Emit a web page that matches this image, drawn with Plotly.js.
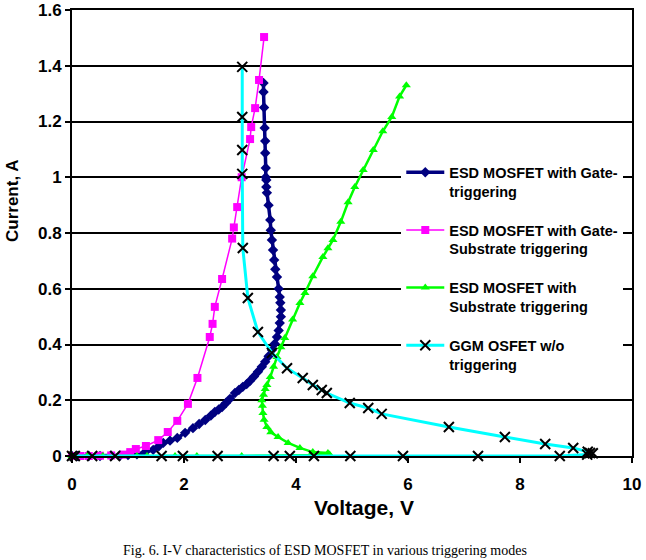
<!DOCTYPE html>
<html>
<head>
<meta charset="utf-8">
<script src="https://cdn.plot.ly/plotly-3.0.1.min.js"></script>
<style>
  html, body { margin: 0; padding: 0; background: #fff; }
  #chart { width: 646px; height: 560px; }
</style>
</head>
<body>
<div id="chart"></div>
<script>
// ---- Data ----
const seriesNames = [
  "ESD MOSFET with Gate-<br>triggering",
  "ESD MOSFET with Gate-<br>Substrate triggering",
  "ESD MOSFET with<br>Substrate triggering",
  "GGM OSFET w/o<br>triggering"
];

// Gate-triggering (navy, diamonds)
const gateV = [0, 0.1, 0.3, 0.5, 0.7, 0.86, 1.0, 1.16, 1.3, 1.45, 1.55, 1.63, 1.75, 1.88, 2.02, 2.16, 2.27, 2.38, 2.48, 2.55, 2.62, 2.68, 2.75, 2.82, 2.91, 2.98, 3.05, 3.12, 3.18, 3.25, 3.32, 3.39, 3.45, 3.51, 3.57, 3.62, 3.66, 3.69, 3.71, 3.73, 3.73, 3.72, 3.71, 3.69, 3.66, 3.63, 3.61, 3.59, 3.57, 3.55, 3.54, 3.51, 3.48, 3.47, 3.47, 3.46, 3.46, 3.45, 3.45, 3.44, 3.43, 3.42, 3.42];
const gateI = [0, 0, 0, 0, 0.001, 0.002, 0.003, 0.006, 0.013, 0.022, 0.035, 0.047, 0.055, 0.065, 0.083, 0.1, 0.115, 0.129, 0.145, 0.158, 0.167, 0.176, 0.19, 0.205, 0.226, 0.237, 0.248, 0.258, 0.27, 0.285, 0.302, 0.32, 0.338, 0.358, 0.38, 0.403, 0.427, 0.45, 0.477, 0.5, 0.524, 0.55, 0.57, 0.6, 0.642, 0.67, 0.703, 0.739, 0.775, 0.81, 0.847, 0.9, 0.944, 0.965, 0.99, 1.0, 1.033, 1.087, 1.13, 1.177, 1.25, 1.306, 1.338];

// Gate-Substrate triggering (magenta, squares)
const gsV = [0, 0.05, 0.15, 0.3, 0.5, 0.7, 0.91, 1.04, 1.14, 1.32, 1.54, 1.71, 1.88, 2.07, 2.24, 2.46, 2.51, 2.55, 2.68, 2.86, 2.89, 2.95, 3.03, 3.18, 3.2, 3.27, 3.34, 3.43];
const gsI = [0, 0, 0, 0, 0.001, 0.002, 0.005, 0.014, 0.025, 0.036, 0.057, 0.086, 0.126, 0.187, 0.28, 0.427, 0.474, 0.535, 0.635, 0.78, 0.82, 0.893, 1.0, 1.137, 1.18, 1.248, 1.349, 1.503];

// Substrate triggering (green, triangles)
const subV = [0, 0.05, 0.27, 0.55, 1.16, 1.34, 1.84, 2.23, 3.03, 4.3, 4.6, 4.57, 4.3, 4.07, 3.86, 3.68, 3.55, 3.48, 3.43, 3.41, 3.4, 3.39, 3.42, 3.45, 3.48, 3.54, 3.6, 3.66, 3.73, 3.8, 3.94, 4.07, 4.16, 4.3, 4.48, 4.57, 4.66, 4.8, 4.93, 5.05, 5.2, 5.38, 5.55, 5.71, 5.85, 5.97];
const subI = [0, 0, 0, 0, 0, 0, 0, 0, 0, 0.003, 0.005, 0.011, 0.014, 0.029, 0.047, 0.068, 0.085, 0.104, 0.13, 0.154, 0.18, 0.2, 0.22, 0.24, 0.255, 0.283, 0.32, 0.355, 0.39, 0.423, 0.49, 0.549, 0.585, 0.645, 0.714, 0.745, 0.775, 0.84, 0.91, 0.965, 1.026, 1.098, 1.165, 1.216, 1.29, 1.33];

// GGMOSFET w/o triggering (cyan line, black x)
const ggV = [0, 0.05, 0.36, 0.77, 1.6, 1.98, 2.6, 3.6, 3.89, 4.32, 4.97, 5.91, 7.25, 8.71, 9.2, 9.3, 9.25, 9.21, 8.95, 8.45, 7.73, 6.73, 5.53, 5.29, 4.96, 4.55, 4.46, 4.3, 4.12, 3.84, 3.57, 3.32, 3.14, 3.05, 3.04, 3.04, 3.04, 3.04];
const ggI = [0, 0, 0, 0, 0, 0, 0, 0, 0, 0, 0, 0, 0, 0, 0.005, 0.01, 0.011, 0.015, 0.029, 0.043, 0.068, 0.104, 0.151, 0.172, 0.19, 0.226, 0.237, 0.255, 0.28, 0.315, 0.37, 0.445, 0.567, 0.746, 1.012, 1.098, 1.216, 1.396];

const xTitle = "Voltage, V";
const yTitle = "Current, A";
const caption = "Fig. 6. I-V characteristics of ESD MOSFET in various triggering modes";

// ---- Traces ----
const traces = [
  {
    x: gateV, y: gateI, name: seriesNames[0], legendgroup: "g1",
    mode: "lines+markers", cliponaxis: false,
    line: { color: "#000080", width: 3.5 },
    marker: { symbol: "diamond", size: 8, color: "#000080" }
  },
  {
    x: gsV, y: gsI, name: seriesNames[1], legendgroup: "g2",
    mode: "lines+markers", cliponaxis: false,
    line: { color: "#ff00ff", width: 1.5 },
    marker: { symbol: "square", size: 8, color: "#ff00ff" }
  },
  {
    x: subV, y: subI, name: seriesNames[2], legendgroup: "g3",
    mode: "lines+markers", cliponaxis: false,
    line: { color: "#00ff00", width: 2.5 },
    marker: { symbol: "triangle-up", size: 8, color: "#00ff00" }
  },
  {
    x: ggV, y: ggI, name: seriesNames[3], legendgroup: "g4",
    mode: "lines+markers", cliponaxis: false,
    line: { color: "#00ffff", width: 3 },
    marker: { symbol: "x-thin", size: 10, color: "#000000", line: { color: "#000000", width: 2 } }
  }
];

const tickFont = { family: "Liberation Sans, Arial, sans-serif", size: 17, color: "#000", weight: "bold" };

const layout = {
  width: 646, height: 560,
  margin: { l: 72, r: 14, t: 10, b: 104 },
  paper_bgcolor: "#fff", plot_bgcolor: "#fff",
  showlegend: true,
  font: { family: "Liberation Sans, Arial, sans-serif", color: "#000" },
  xaxis: {
    range: [0, 10], dtick: 2, tick0: 0,
    showgrid: false, zeroline: false,
    showline: true, linecolor: "#000", linewidth: 2, mirror: true,
    ticks: "outside", ticklen: 5, tickwidth: 2, tickcolor: "#000",
    ticklabelstandoff: 7,
    tickfont: tickFont
  },
  yaxis: {
    range: [0, 1.6], dtick: 0.2, tick0: 0,
    showgrid: true, gridcolor: "#000", gridwidth: 2, zeroline: false,
    showline: true, linecolor: "#000", linewidth: 2, mirror: true,
    ticks: "outside", ticklen: 5, tickwidth: 2, tickcolor: "#000",
    tickfont: tickFont
  },
  legend: {
    x: 0.588, y: 0.672, xanchor: "left", yanchor: "top",
    bgcolor: "#fff", borderwidth: 0, itemwidth: 38,
    traceorder: "grouped", tracegroupgap: 17, valign: "top",
    font: { family: "Liberation Sans, Arial, sans-serif", size: 14.5, color: "#000", weight: "bold" }
  },
  annotations: [
    {
      text: xTitle, xref: "paper", yref: "paper",
      x: (364 - 72) / 560, y: (456 - 507) / 446, xanchor: "center", yanchor: "middle",
      showarrow: false,
      font: { family: "Liberation Sans, Arial, sans-serif", size: 21, color: "#000", weight: "bold" }
    },
    {
      text: yTitle, xref: "paper", yref: "paper",
      x: (12 - 72) / 560, y: (456 - 201) / 446, xanchor: "center", yanchor: "middle",
      textangle: -90, showarrow: false,
      font: { family: "Liberation Sans, Arial, sans-serif", size: 17, color: "#000", weight: "bold" }
    },
    {
      text: caption, xref: "paper", yref: "paper",
      x: (325 - 72) / 560, y: (456 - 560) / 446, xanchor: "center", yanchor: "bottom",
      showarrow: false,
      font: { family: "Liberation Serif, Times New Roman, serif", size: 14, color: "#000" }
    }
  ]
};

Plotly.newPlot("chart", traces, layout, { displayModeBar: false, staticPlot: true });
</script>
</body>
</html>
